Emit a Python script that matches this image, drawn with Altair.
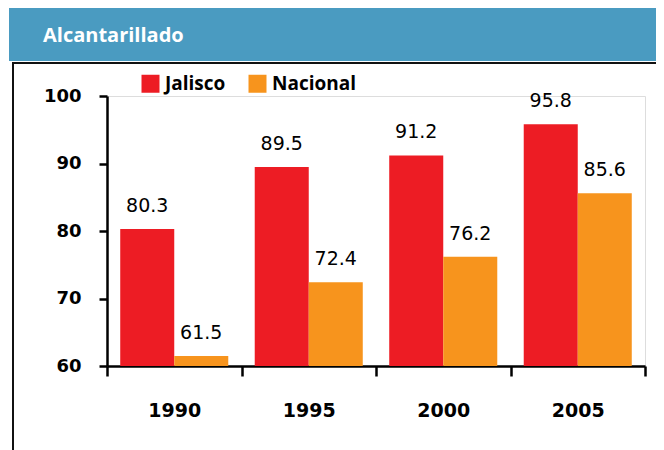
import altair as alt
import pandas as pd

years = ["1990", "1995", "2000", "2005"]
jalisco = [80.3, 89.5, 91.2, 95.8]
nacional = [61.5, 72.4, 76.2, 85.6]
series = ["Jalisco", "Nacional"]
colors = ["#ED1C24", "#F7941D"]
title_text = "Alcantarillado"

rows = []
for i, y in enumerate(years):
    rows.append({"year": y, "serie": series[0], "value": jalisco[i], "label": f"{jalisco[i]:.1f}"})
    rows.append({"year": y, "serie": series[1], "value": nacional[i], "label": f"{nacional[i]:.1f}"})
df = pd.DataFrame(rows)

FONT = "Open Sans"
NUMFONT = "DejaVu Sans"

x_enc = alt.X("year:N", sort=years, scale=alt.Scale(paddingInner=0, paddingOuter=0),
              axis=alt.Axis(title=None, labelAngle=0, tickBand="extent", tickSize=10,
                            labelPadding=25, labelFontSize=19, labelFontWeight="bold",
                            labelFont=NUMFONT, labelColor="#000", domainColor="#000",
                            tickColor="#000", domainWidth=2.5, tickWidth=2.5))
xoff = alt.XOffset("serie:N", sort=series, scale=alt.Scale(paddingInner=0, paddingOuter=0.245))
y_enc = alt.Y("value:Q", scale=alt.Scale(domain=[60, 100], nice=False, zero=False),
              axis=alt.Axis(title=None, values=[60, 70, 80, 90, 100], tickSize=8, labelPadding=18,
                            labelFontSize=18, labelFontWeight="bold", labelFont=NUMFONT,
                            labelColor="#000", domainColor="#000", tickColor="#000",
                            domainWidth=2.5, tickWidth=2.5, grid=False))

bars = alt.Chart(df).mark_bar(clip=True).encode(
    x=x_enc, xOffset=xoff, y=y_enc,
    color=alt.Color("serie:N", sort=series, scale=alt.Scale(domain=series, range=colors),
                    legend=alt.Legend(title=None, orient="none", legendX=34, legendY=-22,
                                      direction="horizontal", symbolType="square",
                                      symbolSize=324, symbolStrokeWidth=0, symbolOpacity=1,
                                      labelFontSize=19, labelFontWeight="bold", labelFont=FONT,
                                      labelColor="#000", columnPadding=22, labelOffset=5,
                                      padding=0)),
)

labels = alt.Chart(df).mark_text(baseline="alphabetic", dy=-17, fontSize=19, font=NUMFONT,
                                 color="#000").encode(
    x=alt.X("year:N", sort=years), xOffset=alt.XOffset("serie:N", sort=series), y="value:Q",
    text="label:N")

header = alt.Chart(pd.DataFrame({"t": [title_text]})).mark_rect(color="#4A9BC1").encode(
    x=alt.value(-98), x2=alt.value(560), y=alt.value(-89), y2=alt.value(-35))

title = alt.Chart(pd.DataFrame({"t": [title_text]})).mark_text(
    align="left", baseline="middle", fontSize=20, fontWeight="bold", font=FONT,
    color="#FFFFFF").encode(x=alt.value(-64), y=alt.value(-60), text="t:N")

frame_top = alt.Chart(pd.DataFrame({"t": [1]})).mark_rule(color="#111", strokeWidth=2).encode(
    x=alt.value(-95), x2=alt.value(551), y=alt.value(-33))
frame_left = alt.Chart(pd.DataFrame({"t": [1]})).mark_rule(color="#111", strokeWidth=2).encode(
    x=alt.value(-94), y=alt.value(-33), y2=alt.value(400))
frame_right = alt.Chart(pd.DataFrame({"t": [1]})).mark_rule(color="#111", strokeWidth=2.5).encode(
    x=alt.value(550.5), y=alt.value(-33), y2=alt.value(400))

chart = alt.layer(header, title, frame_top, frame_left, frame_right, bars, labels).properties(
    width=538, height=270,
    padding={"left": 99, "top": 88, "right": 11, "bottom": 84},
    autosize=alt.AutoSizeParams(type="none"),
).configure_view(stroke=None).configure(background="white")

chart.save("out.html", embed_options={"renderer": "svg", "actions": False})
